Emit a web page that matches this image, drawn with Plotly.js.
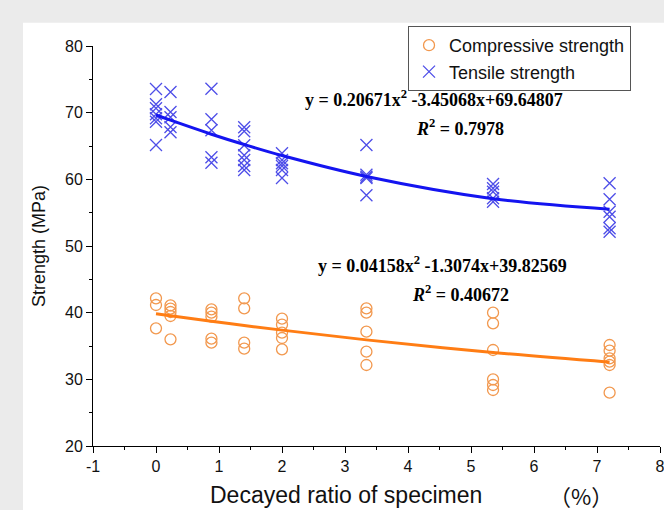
<!DOCTYPE html>
<html>
<head>
<meta charset="utf-8">
<script src="https://cdn.plot.ly/plotly-3.0.1.min.js"></script>
<style>html,body{margin:0;padding:0;background:#ffffff;overflow:hidden;}#chart{width:664px;height:510px;}</style>
</head>
<body>
<div id="chart"></div>
<script>
// Tensile strength measurements (x = decayed ratio %, y = MPa)
const tensileX = [0,0,0,0,0,0,0,
  0.23,0.23,0.23,0.23,0.23,
  0.88,0.88,0.88,0.88,0.88,
  1.4,1.4,1.4,1.4,1.4,1.4,1.4,
  2.0,2.0,2.0,2.0,2.0,2.0,
  3.34,3.34,3.34,3.34,3.34,
  5.35,5.35,5.35,5.35,5.35,
  7.2,7.2,7.2,7.2,7.2,7.2];
const tensileY = [73.55,71.25,70.65,69.75,69.15,68.65,65.15,
  73.1,70.1,69.3,67.85,67.05,
  73.6,69.0,67.35,63.3,62.5,
  67.8,67.2,65.1,63.6,62.9,62.0,61.4,
  63.9,62.9,62.4,62.0,61.4,60.2,
  65.15,60.7,60.4,60.2,57.6,
  59.3,58.65,58.15,57.15,56.65,
  59.4,57.0,55.15,54.4,52.65,52.15];

// Compressive strength measurements
const compX = [0,0,0,
  0.23,0.23,0.23,0.23,0.23,
  0.88,0.88,0.88,0.88,0.88,
  1.4,1.4,1.4,1.4,
  2.0,2.0,2.0,2.0,2.0,
  3.34,3.34,3.34,3.34,3.34,
  5.35,5.35,5.35,5.35,5.35,5.35,
  7.2,7.2,7.2,7.2,7.2,7.2];
const compY = [42.15,41.15,37.65,
  41.1,40.6,40.1,39.5,36.0,
  40.5,40.0,39.4,36.1,35.5,
  42.15,40.65,35.5,34.6,
  39.1,38.2,37.0,36.2,34.5,
  40.65,40.0,37.15,34.15,32.15,
  40.0,38.4,34.4,30.0,29.15,28.4,
  35.15,34.3,33.15,32.65,32.15,28.0];

// Fitted curves
const fitX = [0, 0.23, 0.88, 1.4, 2.0, 3.34, 5.35, 7.2];
const tensileFit = [69.65, 68.87, 66.77, 65.22, 63.57, 60.43, 57.10, 55.52];
const compFit = [39.83, 39.53, 38.71, 38.08, 37.38, 35.92, 34.02, 32.57];

const xTicks = [-1,0,1,2,3,4,5,6,7,8];
const xTickText = ['-1','0','1','2','3','4','5','6','7','8'];
const yTicks = [20,30,40,50,60,70,80];
const yTickText = ['20','30','40','50','60','70','80'];

const labels = {
  comp: 'Compressive strength',
  tens: 'Tensile strength',
  eq1: 'y = 0.20671x<sup>2</sup> -3.45068x+69.64807',
  r1: '<i>R</i><sup>2</sup> = 0.7978',
  eq2: 'y = 0.04158x<sup>2</sup> -1.3074x+39.82569',
  r2: '<i>R</i><sup>2</sup> = 0.40672',
  xTitle: 'Decayed ratio of specimen',
  xUnit: '（%）',
  yTitle: 'Strength (MPa)'
};

const orange = 'rgb(242,152,78)';
const blue = 'rgb(78,78,232)';
const frameGray = '#ebebeb';

const traces = [
  {x: compX, y: compY, type: 'scatter', mode: 'markers', name: labels.comp,
   marker: {symbol: 'circle-open', size: 11, color: orange, line: {width: 1.3}}},
  {x: tensileX, y: tensileY, type: 'scatter', mode: 'markers', name: labels.tens,
   marker: {symbol: 'x-thin-open', size: 12, color: blue, line: {width: 1.3}}},
  {x: fitX, y: tensileFit, type: 'scatter', mode: 'lines', showlegend: false,
   line: {color: 'rgb(20,20,240)', width: 3, shape: 'spline'}},
  {x: fitX, y: compFit, type: 'scatter', mode: 'lines', showlegend: false,
   line: {color: 'rgb(255,125,20)', width: 3, shape: 'spline'}}
];

const sans = 'Liberation Sans, Arial, sans-serif';
const tickFont = {family: sans, size: 16, color: '#111'};
const serifBold = {family: 'Liberation Serif, Times New Roman, serif', size: 18, color: '#000', weight: 'bold'};

const layout = {
  width: 664, height: 510,
  margin: {l: 93, r: 4, t: 46, b: 64},
  paper_bgcolor: '#ffffff',
  plot_bgcolor: '#ffffff',
  showlegend: true,
  legend: {x: 0.5556, y: 1.05, xanchor: 'left', yanchor: 'top',
    bgcolor: '#ffffff', bordercolor: '#555', borderwidth: 1,
    font: {family: sans, size: 18, color: '#111'},
    tracegroupgap: 0},
  xaxis: {range: [-1, 8], tickvals: xTicks, ticktext: xTickText, ticks: 'outside', ticklen: 6, tickwidth: 1,
    tickcolor: '#000', showline: true, linecolor: '#000', linewidth: 1,
    showgrid: false, zeroline: false, tickfont: tickFont, ticklabeloverflow: 'allow',
    minor: {dtick: 0.5, ticks: 'outside', ticklen: 3, tickcolor: '#000', showgrid: false}},
  yaxis: {range: [20, 80], tickvals: yTicks, ticktext: yTickText, ticks: 'outside', ticklen: 6, tickwidth: 1,
    tickcolor: '#000', showline: true, linecolor: '#000', linewidth: 1,
    showgrid: false, zeroline: false, tickfont: tickFont,
    title: {text: labels.yTitle, standoff: 14, font: {family: sans, size: 18, color: '#111'}},
    minor: {dtick: 5, ticks: 'outside', ticklen: 3, tickcolor: '#000', showgrid: false}},
  shapes: [
    {type: 'rect', xref: 'paper', yref: 'paper', x0: -0.164, x1: -0.1235, y0: -0.16, y1: 1.16,
     fillcolor: frameGray, line: {width: 0}, layer: 'below'},
    {type: 'rect', xref: 'paper', yref: 'paper', x0: -0.164, x1: 1.007, y0: 1.058, y1: 1.16,
     fillcolor: frameGray, line: {width: 0}, layer: 'below'}
  ],
  annotations: [
    {text: labels.eq1, x: 4.41, y: 72.2, xref: 'x', yref: 'y', showarrow: false, font: serifBold},
    {text: labels.r1, x: 4.83, y: 67.85, xref: 'x', yref: 'y', showarrow: false, font: serifBold},
    {text: labels.eq2, x: 4.54, y: 47.3, xref: 'x', yref: 'y', showarrow: false, font: serifBold},
    {text: labels.r2, x: 4.83, y: 42.95, xref: 'x', yref: 'y', showarrow: false, font: serifBold},
    {text: labels.xTitle, x: 0.446, y: -0.1225, xref: 'paper', yref: 'paper', showarrow: false,
     xanchor: 'center', yanchor: 'middle', font: {family: sans, size: 23, color: '#111'}},
    {text: labels.xUnit, x: 0.86, y: -0.1225, xref: 'paper', yref: 'paper', showarrow: false,
     xanchor: 'center', yanchor: 'middle', font: {family: 'Noto Sans CJK SC, sans-serif', size: 22, color: '#111'}}
  ]
};

Plotly.newPlot('chart', traces, layout, {staticPlot: true});
</script>
</body>
</html>
